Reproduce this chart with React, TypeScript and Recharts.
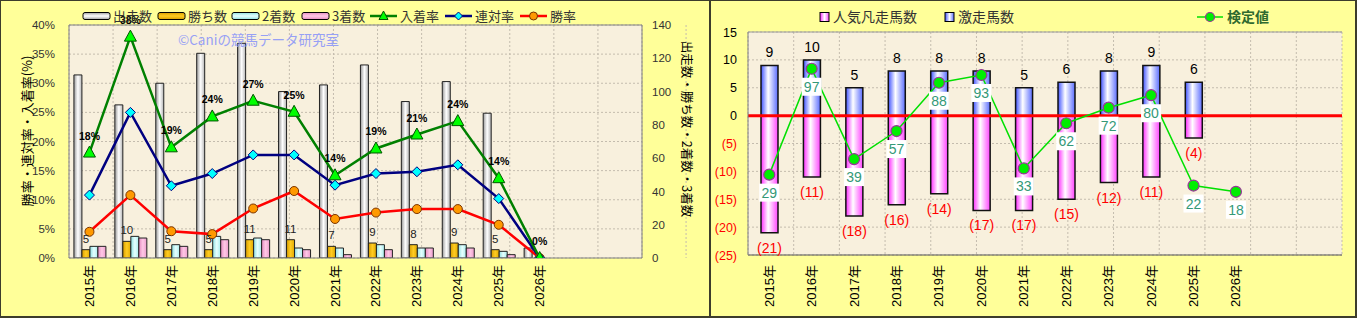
import React from 'react';
import {
  ComposedChart,
  Bar,
  Line,
  XAxis,
  YAxis,
  CartesianGrid,
  LabelList,
  ReferenceLine,
} from 'recharts';

// ---------- data ----------
const years = ['2015年', '2016年', '2017年', '2018年', '2019年', '2020年', '2021年', '2022年', '2023年', '2024年', '2025年', '2026年'];
const padSlots = ['_pad1', '_pad2'];

// left chart (counts on right axis, rates on left axis)
const starters = [110, 92, 105, 123, 129, 100, 104, 116, 94, 106, 87, 6];
const wins = [5, 10, 5, 5, 11, 11, 7, 9, 8, 9, 5, 0];
const seconds = [7, 13, 8, 13, 12, 6, 6, 8, 6, 8, 4, 0];
const thirds = [7, 12, 7, 11, 11, 5, 2, 5, 6, 6, 2, 0];
const placeRate = [18.1, 38.0, 19.0, 24.3, 27.0, 25.1, 14.2, 18.8, 21.2, 23.5, 13.7, 0];
const rentaiRate = [10.8, 25.0, 12.4, 14.5, 17.7, 17.7, 12.5, 14.5, 14.8, 16.0, 10.2, 0];
const winRate = [4.5, 10.8, 4.6, 4.1, 8.5, 11.5, 6.7, 7.8, 8.4, 8.4, 5.7, 0];

const pctTicks = [0, 5, 10, 15, 20, 25, 30, 35, 40];
const cntTicks = [0, 20, 40, 60, 80, 100, 120, 140];

// right chart
const surpriseCounts: (number | null)[] = [9, 10, 5, 8, 8, 8, 5, 6, 8, 9, 6, null];
const flopCounts: (number | null)[] = [21, 11, 18, 16, 14, 17, 17, 15, 12, 11, 4, null];
const testValues = [29, 97, 39, 57, 88, 93, 33, 62, 72, 80, 22, 18];
const rightTicks = [-25, -20, -15, -10, -5, 0, 5, 10, 15];

const slotKeys = [...years, ...padSlots];
const gridTicks = slotKeys.map((_, i) => i).concat([slotKeys.length]);

const leftData = slotKeys.map((key, i) => ({
  key,
  starters: starters[i],
  wins: wins[i],
  seconds: seconds[i],
  thirds: thirds[i],
  place: placeRate[i],
  rentai: rentaiRate[i],
  win: winRate[i],
}));

const rightData = slotKeys.map((key, i) => ({
  key,
  surprise: surpriseCounts[i] ?? undefined,
  flop: flopCounts[i] != null ? -(flopCounts[i] as number) : undefined,
  test: testValues[i],
}));

const FONT = "'Liberation Sans', 'Noto Sans CJK JP', sans-serif";
const JFONT = "'Noto Sans CJK JP', 'Liberation Sans', sans-serif";
const PLOT_BG = '#f8f0dd';

// ---------- helpers ----------
function box(p: any) {
  const v = p.viewBox || {};
  const x = typeof v.x === 'number' ? v.x : p.x;
  const y = typeof v.y === 'number' ? v.y : p.y;
  const width = typeof v.width === 'number' ? v.width : p.width || 0;
  const height = typeof v.height === 'number' ? v.height : p.height || 0;
  return { x, y, width, height };
}

const YearTick = (props: any) => {
  const { x, y, payload, gap } = props;
  const v: string = String(payload.value);
  const label = v.startsWith('_') ? '' : v;
  const yy = y + gap;
  return (
    <text
      x={x}
      y={yy}
      dy={4.5}
      transform={`rotate(-90 ${x} ${yy})`}
      textAnchor="end"
      fontSize={13}
      fill="#000"
      fontFamily={FONT}
    >
      {label}
    </text>
  );
};

const RightYTick = (props: any) => {
  const { x, y, payload } = props;
  const v = payload.value as number;
  const neg = v < 0;
  return (
    <text x={x} y={y} dy={4.5} textAnchor="end" fontSize={12.5} fill={neg ? '#ff0000' : '#000'} fontFamily={FONT}>
      {neg ? `(${-v})` : v}
    </text>
  );
};

const triangleDot = (p: any) => {
  const { cx, cy, index } = p;
  if (cx == null || cy == null) return <g key={`t${index}`} />;
  return (
    <polygon
      key={`t${index}`}
      points={`${cx},${cy - 6.5} ${cx - 6},${cy + 4.5} ${cx + 6},${cy + 4.5}`}
      fill="#00ff00"
      stroke="#005500"
      strokeWidth={1}
    />
  );
};
const diamondDot = (p: any) => {
  const { cx, cy, index } = p;
  if (cx == null || cy == null) return <g key={`d${index}`} />;
  return (
    <polygon
      key={`d${index}`}
      points={`${cx},${cy - 5} ${cx + 5},${cy} ${cx},${cy + 5} ${cx - 5},${cy}`}
      fill="#00ffff"
      stroke="#000080"
      strokeWidth={1}
    />
  );
};
const circleDot = (p: any) => {
  const { cx, cy, index } = p;
  if (cx == null || cy == null) return <g key={`c${index}`} />;
  return <circle key={`c${index}`} cx={cx} cy={cy} r={4.5} fill="#ff9900" stroke="#7a3300" strokeWidth={1} />;
};
const testDot = (p: any) => {
  const { cx, cy, index } = p;
  if (cx == null || cy == null) return <g key={`g${index}`} />;
  return <circle key={`g${index}`} cx={cx} cy={cy} r={5.5} fill="#00ee00" stroke="#993399" strokeWidth={1.2} />;
};

const placeLabel = (p: any) => {
  const { x, y } = box(p);
  if (p.value == null || x == null) return null;
  return (
    <text x={x} y={y - 13} textAnchor="middle" fontSize={10.5} fontWeight="bold" fill="#000" fontFamily={FONT}>
      {`${Math.round(p.value)}%`}
    </text>
  );
};

const winCountLabel = (p: any) => {
  const { x, y, width } = box(p);
  if (!p.value || x == null) return null;
  return (
    <text x={x + width / 2} y={y - 7} textAnchor="middle" fontSize={11.5} fill="#222" fontFamily={FONT}>
      {p.value}
    </text>
  );
};

const surpriseLabel = (p: any) => {
  const { x, y, width, height } = box(p);
  if (p.value == null || x == null) return null;
  const top = Math.min(y, y + height);
  return (
    <text x={x + width / 2} y={top - 8} textAnchor="middle" fontSize={14} fill="#000" fontFamily={FONT}>
      {p.value}
    </text>
  );
};

const flopLabel = (p: any) => {
  const { x, y, width, height } = box(p);
  if (p.value == null || x == null) return null;
  const bottom = Math.max(y, y + height);
  return (
    <text x={x + width / 2} y={bottom + 20} textAnchor="middle" fontSize={14} fill="#ff0000" fontFamily={FONT}>
      {`(${Math.abs(p.value)})`}
    </text>
  );
};

const testLabel = (p: any) => {
  const { x, y } = box(p);
  if (p.value == null || x == null) return null;
  return (
    <g>
      <rect x={x - 10} y={y + 9} width={20} height={18} fill="#ffffff" />
      <text x={x} y={y + 23} textAnchor="middle" fontSize={14} fill="#339977" fontFamily={FONT}>
        {p.value}
      </text>
    </g>
  );
};

// ---------- legends ----------
type BarLegend = { label: string; grad: string; x: number };
const leftBarLegends: BarLegend[] = [
  { label: '出走数', grad: 'lgStarters', x: 83 },
  { label: '勝ち数', grad: 'lgWins', x: 158 },
  { label: '2着数', grad: 'lgSeconds', x: 232 },
  { label: '3着数', grad: 'lgThirds', x: 302 },
];
const leftLineLegends = [
  { label: '入着率', stroke: '#008000', marker: 'tri', x: 370 },
  { label: '連対率', stroke: '#000080', marker: 'dia', x: 445 },
  { label: '勝率', stroke: '#ff0000', marker: 'cir', x: 520 },
];

const Gradients = () => (
  <defs>
    <linearGradient id="gStarters" x1="0" y1="0" x2="1" y2="0">
      <stop offset="0" stopColor="#9a9a9a" />
      <stop offset="0.5" stopColor="#ffffff" />
      <stop offset="1" stopColor="#b4b4b4" />
    </linearGradient>
    <linearGradient id="gWins" x1="0" y1="0" x2="1" y2="0">
      <stop offset="0" stopColor="#d89e00" />
      <stop offset="0.5" stopColor="#ffcc22" />
      <stop offset="1" stopColor="#e0a800" />
    </linearGradient>
    <linearGradient id="gSeconds" x1="0" y1="0" x2="1" y2="0">
      <stop offset="0" stopColor="#8fe0e0" />
      <stop offset="0.5" stopColor="#e6ffff" />
      <stop offset="1" stopColor="#a8ecec" />
    </linearGradient>
    <linearGradient id="gThirds" x1="0" y1="0" x2="1" y2="0">
      <stop offset="0" stopColor="#e58cc0" />
      <stop offset="0.5" stopColor="#ffc8e6" />
      <stop offset="1" stopColor="#ec9ccc" />
    </linearGradient>
    <linearGradient id="gBlue" x1="0" y1="0" x2="1" y2="0">
      <stop offset="0" stopColor="#3f52ff" />
      <stop offset="0.42" stopColor="#ffffff" />
      <stop offset="1" stopColor="#5a6cff" />
    </linearGradient>
    <linearGradient id="gPink" x1="0" y1="0" x2="1" y2="0">
      <stop offset="0" stopColor="#ff2cff" />
      <stop offset="0.42" stopColor="#ffffff" />
      <stop offset="1" stopColor="#ff44ff" />
    </linearGradient>
  </defs>
);

const LeftOverlay = () => (
  <svg width={711} height={318} style={{ position: 'absolute', left: 0, top: 0, pointerEvents: 'none' }}>
    <defs>
      <linearGradient id="lgStarters" x1="0" y1="0" x2="0" y2="1">
        <stop offset="0" stopColor="#a0a0a0" />
        <stop offset="0.5" stopColor="#ffffff" />
        <stop offset="1" stopColor="#a0a0a0" />
      </linearGradient>
      <linearGradient id="lgWins" x1="0" y1="0" x2="0" y2="1">
        <stop offset="0" stopColor="#d89e00" />
        <stop offset="0.5" stopColor="#ffcc22" />
        <stop offset="1" stopColor="#d89e00" />
      </linearGradient>
      <linearGradient id="lgSeconds" x1="0" y1="0" x2="0" y2="1">
        <stop offset="0" stopColor="#8fe0e0" />
        <stop offset="0.5" stopColor="#e6ffff" />
        <stop offset="1" stopColor="#8fe0e0" />
      </linearGradient>
      <linearGradient id="lgThirds" x1="0" y1="0" x2="0" y2="1">
        <stop offset="0" stopColor="#e58cc0" />
        <stop offset="0.5" stopColor="#ffc8e6" />
        <stop offset="1" stopColor="#e58cc0" />
      </linearGradient>
    </defs>
    {leftBarLegends.map((l) => (
      <g key={l.label}>
        <rect x={l.x} y={12.5} width={27} height={7} rx={2} fill={`url(#${l.grad})`} stroke="#000" strokeWidth={1} />
        <text x={l.x + 30} y={21} fontSize={13} fill="#333" fontFamily={JFONT}>
          {l.label}
        </text>
      </g>
    ))}
    {leftLineLegends.map((l) => {
      const cx = l.x + 13.5;
      const cy = 16;
      return (
        <g key={l.label}>
          <line x1={l.x} y1={cy} x2={l.x + 27} y2={cy} stroke={l.stroke} strokeWidth={2.5} />
          {l.marker === 'tri' && (
            <polygon points={`${cx},${cy - 5} ${cx - 4.5},${cy + 3.5} ${cx + 4.5},${cy + 3.5}`} fill="#00ff00" stroke="#005500" />
          )}
          {l.marker === 'dia' && (
            <polygon points={`${cx},${cy - 4} ${cx + 4},${cy} ${cx},${cy + 4} ${cx - 4},${cy}`} fill="#00ffff" stroke="#000080" />
          )}
          {l.marker === 'cir' && <circle cx={cx} cy={cy} r={4} fill="#ff9900" stroke="#7a3300" />}
          <text x={l.x + 30} y={21} fontSize={13} fill="#333" fontFamily={JFONT}>
            {l.label}
          </text>
        </g>
      );
    })}
    <text x={178} y={45} fontSize={13.5} fill="#97a0f5" fontFamily={JFONT}>
      ©Caniの競馬データ研究室
    </text>
    <text
      x={26}
      y={131}
      transform="rotate(-90 26 131)"
      textAnchor="middle"
      dominantBaseline="central"
      fontSize={13}
      fill="#000"
      fontFamily={JFONT}
    >
      勝率・連対率・入着率(%)
    </text>
    <text
      x={687}
      y={129}
      transform="rotate(90 687 129)"
      textAnchor="middle"
      dominantBaseline="central"
      fontSize={12.5}
      fill="#000"
      fontFamily={JFONT}
    >
      出走数・勝ち数・2着数・3着数
    </text>
  </svg>
);

const RightOverlay = () => (
  <svg width={648} height={318} style={{ position: 'absolute', left: 709, top: 0, pointerEvents: 'none' }}>
    <defs>
      <linearGradient id="lgPink" x1="0" y1="0" x2="1" y2="0">
        <stop offset="0" stopColor="#ff2cff" />
        <stop offset="0.5" stopColor="#ffffff" />
        <stop offset="1" stopColor="#ff44ff" />
      </linearGradient>
      <linearGradient id="lgBlue" x1="0" y1="0" x2="1" y2="0">
        <stop offset="0" stopColor="#3f52ff" />
        <stop offset="0.5" stopColor="#ffffff" />
        <stop offset="1" stopColor="#5a6cff" />
      </linearGradient>
    </defs>
    <rect x={111} y={12.5} width={9} height={9} fill="url(#lgPink)" stroke="#000" strokeWidth={1} />
    <text x={124} y={22} fontSize={14} fill="#333" fontFamily={JFONT}>
      人気凡走馬数
    </text>
    <rect x={236} y={12.5} width={9} height={9} fill="url(#lgBlue)" stroke="#000" strokeWidth={1} />
    <text x={249} y={22} fontSize={14} fill="#333" fontFamily={JFONT}>
      激走馬数
    </text>
    <line x1={488} y1={17} x2={514} y2={17} stroke="#00e000" strokeWidth={1.5} />
    <circle cx={501} cy={17} r={4.5} fill="#00ee00" stroke="#993399" strokeWidth={1.2} />
    <text x={518} y={22} fontSize={14} fill="#2f6a2f" fontWeight="bold" fontFamily={JFONT}>
      検定値
    </text>
  </svg>
);

// ---------- charts ----------
const LeftChart = () => (
  <ComposedChart
    width={711}
    height={318}
    data={leftData}
    margin={{ top: 25, right: 24, bottom: 10, left: 24 }}
    barGap={0}
    barCategoryGap="12%"
  >
    <Gradients />
    <XAxis xAxisId="grid" type="number" domain={[0, slotKeys.length]} ticks={gridTicks} allowDataOverflow hide />
    <XAxis
      dataKey="key"
      interval={0}
      height={50}
      tickLine={false}
      tickSize={0}
      tickMargin={0}
      axisLine={{ stroke: '#808080' }}
      tick={<YearTick gap={7} />}
    />
    <YAxis
      yAxisId="pct"
      domain={[0, 40]}
      ticks={pctTicks}
      allowDataOverflow
      width={45}
      tickLine={false}
      tickSize={0}
      tickMargin={14}
      axisLine={{ stroke: '#808080' }}
      tickFormatter={(v: number) => `${v}%`}
      tick={{ fontSize: 11.5, fill: '#333', fontFamily: FONT }}
    />
    <YAxis
      yAxisId="cnt"
      orientation="right"
      domain={[0, 140]}
      ticks={cntTicks}
      allowDataOverflow
      width={45}
      tickLine={false}
      tickSize={0}
      tickMargin={10}
      axisLine={{ stroke: '#808080' }}
      tick={{ fontSize: 11.5, fill: '#333', fontFamily: FONT }}
    />
    <CartesianGrid xAxisId="grid" yAxisId="pct" fill={PLOT_BG} fillOpacity={1} stroke="#c4bcae" strokeDasharray="2 2" />
    <ReferenceLine yAxisId="pct" y={40} stroke="#808080" />
    <Bar yAxisId="cnt" dataKey="starters" fill="url(#gStarters)" stroke="#222" strokeWidth={1} isAnimationActive={false} />
    <Bar yAxisId="cnt" dataKey="wins" fill="url(#gWins)" stroke="#222" strokeWidth={1} isAnimationActive={false}>
      <LabelList dataKey="wins" content={winCountLabel} />
    </Bar>
    <Bar yAxisId="cnt" dataKey="seconds" fill="url(#gSeconds)" stroke="#222" strokeWidth={1} isAnimationActive={false} />
    <Bar yAxisId="cnt" dataKey="thirds" fill="url(#gThirds)" stroke="#222" strokeWidth={1} isAnimationActive={false} />
    <Line yAxisId="pct" dataKey="win" stroke="#ff0000" strokeWidth={2.5} dot={circleDot} isAnimationActive={false} />
    <Line yAxisId="pct" dataKey="rentai" stroke="#000080" strokeWidth={2.5} dot={diamondDot} isAnimationActive={false} />
    <Line yAxisId="pct" dataKey="place" stroke="#008000" strokeWidth={2.5} dot={triangleDot} isAnimationActive={false}>
      <LabelList dataKey="place" content={placeLabel} />
    </Line>
  </ComposedChart>
);

const RightChart = () => (
  <ComposedChart
    width={648}
    height={318}
    data={rightData}
    margin={{ top: 32, right: 15, bottom: 10, left: 0 }}
    stackOffset="sign"
  >
    <Gradients />
    <XAxis xAxisId="grid" type="number" domain={[0, slotKeys.length]} ticks={gridTicks} allowDataOverflow hide />
    <XAxis
      dataKey="key"
      interval={0}
      height={53}
      tickLine={false}
      tickSize={0}
      tickMargin={0}
      axisLine={{ stroke: '#555' }}
      tick={<YearTick gap={10} />}
    />
    <YAxis
      domain={[-25, 15]}
      ticks={rightTicks}
      allowDataOverflow
      width={39}
      tickLine={false}
      tickSize={0}
      tickMargin={11}
      axisLine={{ stroke: '#808080' }}
      tick={<RightYTick />}
    />
    <YAxis yAxisId="test" domain={[-22.6, 120.6]} allowDataOverflow hide />
    <CartesianGrid xAxisId="grid" fill={PLOT_BG} fillOpacity={1} stroke="#c4bcae" strokeDasharray="2 2" />
    <ReferenceLine y={15} stroke="#999" />
    <ReferenceLine xAxisId="grid" x={slotKeys.length} stroke="#999" />
    <Bar dataKey="flop" stackId="s" barSize={17} fill="url(#gPink)" stroke="#111" strokeWidth={1.5} isAnimationActive={false}>
      <LabelList dataKey="flop" content={flopLabel} />
    </Bar>
    <Bar dataKey="surprise" stackId="s" barSize={17} fill="url(#gBlue)" stroke="#111" strokeWidth={1.5} isAnimationActive={false}>
      <LabelList dataKey="surprise" content={surpriseLabel} />
    </Bar>
    <ReferenceLine y={0} stroke="#ff0000" strokeWidth={3} />
    <Line yAxisId="test" dataKey="test" stroke="#00e000" strokeWidth={1.5} dot={testDot} isAnimationActive={false}>
      <LabelList dataKey="test" content={testLabel} />
    </Line>
  </ComposedChart>
);

export default function App() {
  return (
    <div style={{ position: 'absolute', left: 0, top: 0, width: 1359, height: 318, fontFamily: FONT, background: '#ffffff' }}>
      <div
        style={{
          position: 'absolute',
          left: 0,
          top: 0,
          width: 711,
          height: 318,
          boxSizing: 'border-box',
          background: '#ffff99',
          borderStyle: 'solid',
          borderColor: '#3c3c2c',
          borderWidth: '1px 2px 2px 1px',
        }}
      />
      <div
        style={{
          position: 'absolute',
          left: 711,
          top: 0,
          width: 646,
          height: 318,
          boxSizing: 'border-box',
          background: '#ffff99',
          borderStyle: 'solid',
          borderColor: '#3c3c2c',
          borderWidth: '1px 2px 2px 0px',
        }}
      />
      <div style={{ position: 'absolute', left: 0, top: 0 }}>
        <LeftChart />
      </div>
      <div style={{ position: 'absolute', left: 709, top: 0 }}>
        <RightChart />
      </div>
      <LeftOverlay />
      <RightOverlay />
    </div>
  );
}
